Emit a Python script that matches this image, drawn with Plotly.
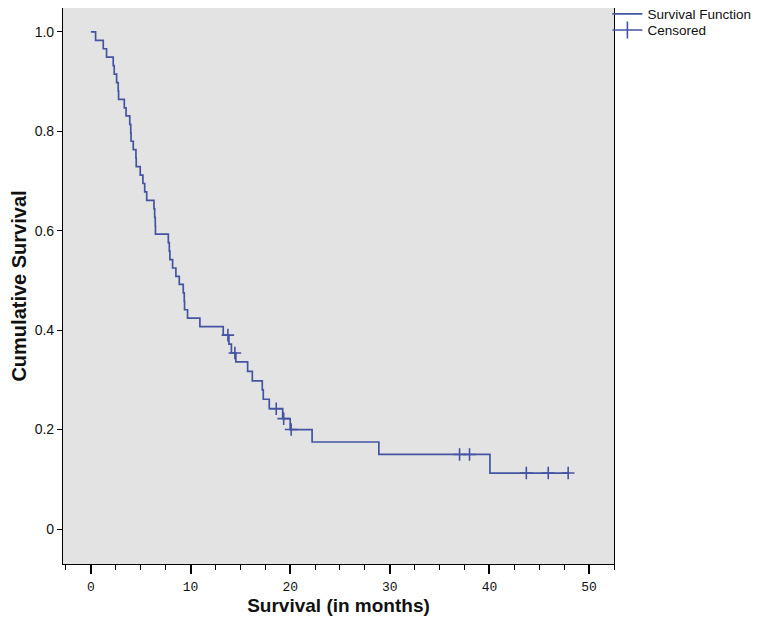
import plotly.graph_objects as go

# ---- data ----
event_times = [0.0, 0.47, 1.24, 1.57, 2.24, 2.34, 2.58, 2.74, 2.78, 3.35, 3.53,
               3.90, 4.00, 4.03, 4.25, 4.52, 4.55, 4.95, 5.22, 5.40, 5.60,
               6.33, 6.40, 6.46, 6.48, 7.77, 7.87, 7.93, 8.20, 8.53, 8.87,
               9.27, 9.37, 9.40, 9.70, 10.94, 13.28, 13.85, 14.10, 14.55, 15.73,
               16.20, 17.20, 17.30, 17.90, 19.25, 20.00, 22.20, 28.90, 40.05, 48.0]
survival = [1.000, 0.983, 0.966, 0.949, 0.932, 0.915, 0.898, 0.881, 0.864, 0.847, 0.831,
            0.814, 0.797, 0.780, 0.763, 0.746, 0.729, 0.712, 0.695, 0.678, 0.661,
            0.644, 0.627, 0.610, 0.593, 0.576, 0.559, 0.542, 0.525, 0.508, 0.492,
            0.475, 0.458, 0.441, 0.424, 0.407, 0.390, 0.372, 0.354, 0.336, 0.317,
            0.298, 0.280, 0.261, 0.242, 0.222, 0.200, 0.175, 0.150, 0.1125, 0.1125]

censor_times = [13.75, 14.45, 18.6, 19.35, 20.1, 37.0, 38.0, 43.7, 45.9, 47.9]
censor_surv = [0.390, 0.354, 0.242, 0.222, 0.200, 0.150, 0.150, 0.1125, 0.1125, 0.1125]

y_tick_vals = [0, 0.2, 0.4, 0.6, 0.8, 1.0]
y_tick_text = ["0", "0.2", "0.4", "0.6", "0.8", "1.0"]
x_tick_vals = [0, 10, 20, 30, 40, 50]

COLOR = "#4454a3"

fig = go.Figure()
fig.add_trace(go.Scatter(
    x=event_times, y=survival, mode="lines", line_shape="hv",
    line=dict(color=COLOR, width=1.7), name="Survival Function",
    legend="legend"))
fig.add_trace(go.Scatter(
    x=censor_times, y=censor_surv, mode="markers", showlegend=False,
    marker=dict(symbol="cross-thin", size=9, color=COLOR,
                line=dict(color=COLOR, width=1.6))))
fig.add_trace(go.Scatter(
    x=[None], y=[None], mode="lines+markers", name="Censored",
    line=dict(color=COLOR, width=1.6), legend="legend2",
    marker=dict(symbol="line-ns", size=12, color=COLOR,
                line=dict(color=COLOR, width=1.6))))

legend_common = dict(xanchor="left", yanchor="middle", bgcolor="rgba(0,0,0,0)",
                     font=dict(size=13.5), itemwidth=30)
# page body adds ~8px offset, so the figure is sized to fit the window
fig.update_layout(
    width=756, height=613,
    margin=dict(l=55, r=150, t=0, b=57, autoexpand=False),
    paper_bgcolor="white", plot_bgcolor="#e3e3e3",
    font=dict(family="Liberation Sans, Arial, sans-serif", color="#111"),
    legend=dict(x=0.988, y=0.989, **legend_common),
    legend2=dict(x=0.988, y=0.960, **legend_common),
)
fig.update_xaxes(
    automargin=False,
    range=[-2.8, 52.5], tickvals=x_tick_vals, ticks="outside", ticklen=9,
    tickcolor="black", tickwidth=1.5, ticklabelstandoff=1,
    tickfont=dict(family="Liberation Mono, monospace", size=13),
    minor=dict(dtick=2.5, tick0=0, ticks="outside", ticklen=5,
               tickcolor="black", tickwidth=1.2, showgrid=False),
    showgrid=False, zeroline=False, showline=True, mirror=True,
    linecolor="black", linewidth=1.2,
    title=dict(text="<b>Survival (in months)</b>", font=dict(size=19), standoff=0))
fig.update_yaxes(
    automargin=False,
    range=[-0.0704, 1.048], tickvals=y_tick_vals, ticktext=y_tick_text,
    ticks="outside", ticklen=5, tickcolor="black", tickwidth=1.2,
    tickfont=dict(size=14),
    showgrid=False, zeroline=False, showline=True, mirror=True,
    linecolor="black", linewidth=1.2,
    title=dict(text="<b>Cumulative Survival</b>", font=dict(size=20), standoff=7))

fig.write_html("out.html")
